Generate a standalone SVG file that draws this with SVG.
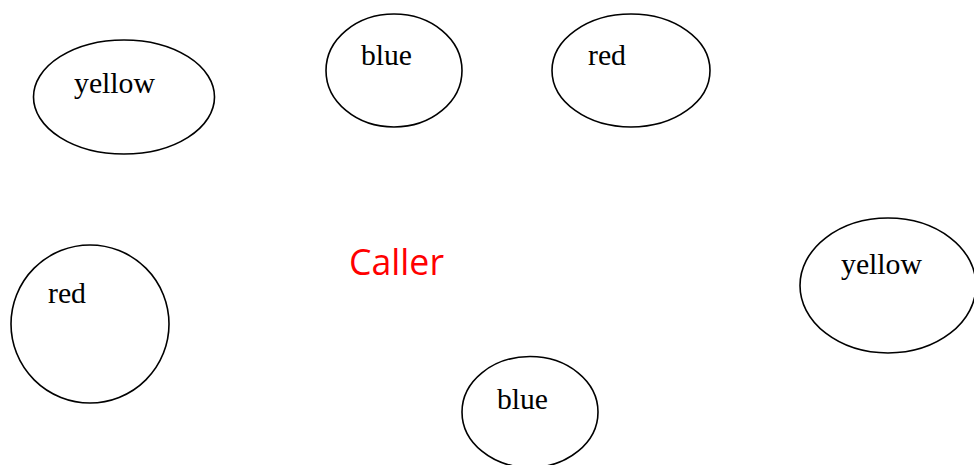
<svg xmlns="http://www.w3.org/2000/svg" width="974" height="465" viewBox="0 0 974 465">
<style>
.n{fill:none;stroke:#000;stroke-width:1.6}
.t{font-family:"Liberation Serif","Times New Roman",serif;font-size:29.5px;fill:#000}
.c{font-family:"Open Sans","DejaVu Sans",sans-serif;font-size:36px;fill:#ff0000}
</style>
<rect width="974" height="465" fill="#fff"/>
<g id="connectors"></g>
<g id="n1"><ellipse class="n" cx="124" cy="97" rx="90.5" ry="57"/><text class="t" x="74" y="93" textLength="81" lengthAdjust="spacingAndGlyphs">yellow</text></g>
<g id="n2"><ellipse class="n" cx="394" cy="70.5" rx="68" ry="56.5"/><text class="t" x="361" y="65" textLength="51" lengthAdjust="spacingAndGlyphs">blue</text></g>
<g id="n3"><ellipse class="n" cx="631" cy="70.5" rx="79" ry="56.5"/><text class="t" x="588" y="65" textLength="38" lengthAdjust="spacingAndGlyphs">red</text></g>
<g id="n4"><ellipse class="n" cx="90" cy="324" rx="79" ry="79"/><text class="t" x="48" y="303" textLength="38" lengthAdjust="spacingAndGlyphs">red</text></g>
<g id="n5"><ellipse class="n" cx="888" cy="285.5" rx="88" ry="67.5"/><text class="t" x="841" y="274" textLength="81" lengthAdjust="spacingAndGlyphs">yellow</text></g>
<g id="n6"><ellipse class="n" cx="530" cy="412" rx="68" ry="55.5"/><text class="t" x="497" y="409" textLength="51" lengthAdjust="spacingAndGlyphs">blue</text></g>
<text id="caller" class="c" x="349" y="275" textLength="95" lengthAdjust="spacingAndGlyphs">Caller</text>
</svg>
